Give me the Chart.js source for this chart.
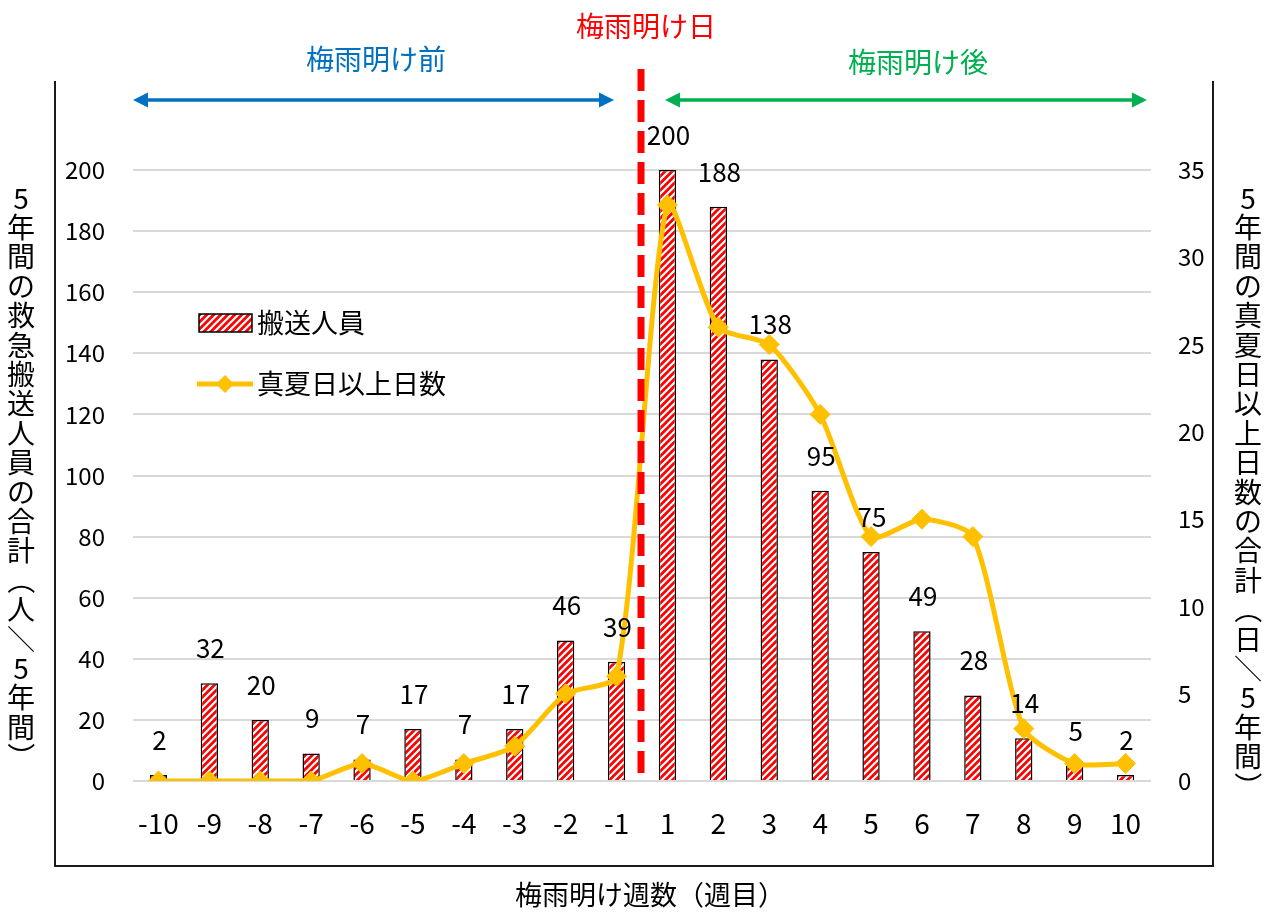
<!DOCTYPE html>
<html>
<head>
<meta charset="utf-8">
<script src="https://cdn.jsdelivr.net/npm/chart.js@4.4.1/dist/chart.umd.min.js"></script>
<style>
  html, body { margin: 0; padding: 0; background: #fff; }
  #wrap { width: 1272px; height: 914px; }
</style>
</head>
<body>
<div id="wrap"><canvas id="c" width="1272" height="914"></canvas></div>
<script>
// data
const weeks = ['-10','-9','-8','-7','-6','-5','-4','-3','-2','-1','1','2','3','4','5','6','7','8','9','10'];
const transported = [2, 32, 20, 9, 7, 17, 7, 17, 46, 39, 200, 188, 138, 95, 75, 49, 28, 14, 5, 2];
const hotDays = [0, 0, 0, 0, 1, 0, 1, 2, 5, 6, 33, 26, 25, 21, 14, 15, 14, 3, 1, 1];
const leftTicks = [0, 20, 40, 60, 80, 100, 120, 140, 160, 180, 200];
const rightTicks = [0, 5, 10, 15, 20, 25, 30, 35];

const FONT = "'Noto Sans CJK JP', 'Noto Sans', sans-serif";
Chart.defaults.font.family = FONT;
Chart.defaults.color = '#000';

function makeHatch() {
  const s = 7;
  const p = document.createElement('canvas');
  p.width = s; p.height = s;
  const g = p.getContext('2d');
  g.fillStyle = '#ff0000';
  g.fillRect(0, 0, s, s);
  g.strokeStyle = '#ffffff';
  g.lineWidth = 2.2;
  g.beginPath();
  g.moveTo(-1, 1); g.lineTo(1, -1);
  g.moveTo(0, s); g.lineTo(s, 0);
  g.moveTo(s - 1, s + 1); g.lineTo(s + 1, s - 1);
  g.stroke();
  return document.getElementById('c').getContext('2d').createPattern(p, 'repeat');
}
const hatch = makeHatch();

function arrow(ctx, x1, x2, y, color) {
  const hl = 15, hw = 7.5;
  ctx.save();
  ctx.strokeStyle = color;
  ctx.fillStyle = color;
  ctx.lineWidth = 3.5;
  ctx.beginPath();
  ctx.moveTo(x1 + hl - 2, y); ctx.lineTo(x2 - hl + 2, y);
  ctx.stroke();
  ctx.beginPath();
  ctx.moveTo(x1, y); ctx.lineTo(x1 + hl, y - hw); ctx.lineTo(x1 + hl, y + hw); ctx.closePath();
  ctx.fill();
  ctx.beginPath();
  ctx.moveTo(x2, y); ctx.lineTo(x2 - hl, y - hw); ctx.lineTo(x2 - hl, y + hw); ctx.closePath();
  ctx.fill();
  ctx.restore();
}

// vertical (tategaki) title: characters upright, brackets and slash turned
function vText(ctx, text, cx, top, step) {
  ctx.save();
  ctx.font = '28px ' + FONT;
  ctx.fillStyle = '#000';
  ctx.textAlign = 'center';
  ctx.textBaseline = 'middle';
  const turn = '（）／';
  [...text].forEach((ch, i) => {
    const y = top + i * step;
    if (turn.includes(ch)) {
      ctx.save();
      ctx.translate(cx, y);
      ctx.rotate(Math.PI / 2);
      ctx.fillText(ch, 0, 0);
      ctx.restore();
    } else {
      ctx.fillText(ch, cx, y);
    }
  });
  ctx.restore();
}

const decor = {
  id: 'decor',
  beforeDraw(chart) {
    const ctx = chart.ctx;
    ctx.save();
    ctx.fillStyle = '#fff';
    ctx.fillRect(0, 0, chart.width, chart.height);
    ctx.restore();
  },
  afterDatasetsDraw(chart) {
    const ctx = chart.ctx;
    const x = chart.scales.x;
    const area = chart.chartArea;

    // frame (left, bottom, right)
    ctx.save();
    ctx.strokeStyle = '#1a1a1a';
    ctx.lineWidth = 2;
    ctx.beginPath();
    ctx.moveTo(55, 81); ctx.lineTo(55, 866); ctx.lineTo(1213, 866); ctx.lineTo(1213, 81);
    ctx.stroke();
    ctx.restore();

    // rainy season end marker
    const mx = (x.getPixelForValue(9) + x.getPixelForValue(10)) / 2 - 1;
    ctx.save();
    ctx.strokeStyle = '#ff0000';
    ctx.lineWidth = 7;
    ctx.setLineDash([22, 9]);
    ctx.beginPath();
    ctx.moveTo(mx, 69); ctx.lineTo(mx, area.bottom + 1);
    ctx.stroke();
    ctx.restore();

    arrow(ctx, 133, 614, 100, '#0070c0');
    arrow(ctx, 665, 1147, 100, '#00b050');

    ctx.save();
    ctx.textAlign = 'center';
    ctx.textBaseline = 'middle';
    ctx.font = '28px ' + FONT;
    ctx.fillStyle = '#ff0000';
    ctx.fillText('梅雨明け日', 646, 26);
    ctx.fillStyle = '#0070c0';
    ctx.fillText('梅雨明け前', 376, 59);
    ctx.fillStyle = '#00b050';
    ctx.fillText('梅雨明け後', 918, 62);
    ctx.fillStyle = '#000';
    ctx.font = '27px ' + FONT;
    ctx.fillText('梅雨明け週数（週目）', 650, 895);

    // value labels above bars
    ctx.font = '26px ' + FONT;
    const meta = chart.getDatasetMeta(0);
    meta.data.forEach((bar, i) => {
      ctx.fillText(String(transported[i]), bar.x + 1, bar.y - 35);
    });

    // legend
    ctx.fillStyle = hatch;
    ctx.fillRect(199, 314, 53, 18);
    ctx.strokeStyle = '#000';
    ctx.lineWidth = 1.5;
    ctx.strokeRect(199, 314, 53, 18);
    ctx.strokeStyle = '#ffc000';
    ctx.lineWidth = 5;
    ctx.beginPath();
    ctx.moveTo(197, 384); ctx.lineTo(253, 384);
    ctx.stroke();
    ctx.fillStyle = '#ffc000';
    ctx.beginPath();
    ctx.moveTo(225, 375); ctx.lineTo(234, 384); ctx.lineTo(225, 393); ctx.lineTo(216, 384); ctx.closePath();
    ctx.fill();
    ctx.fillStyle = '#000';
    ctx.textAlign = 'left';
    ctx.font = '27px ' + FONT;
    ctx.fillText('搬送人員', 257, 323);
    ctx.fillText('真夏日以上日数', 257, 384);
    ctx.restore();

    vText(ctx, '5年間の救急搬送人員の合計（人／5年間）', 21, 198, 29.4);
    vText(ctx, '5年間の真夏日以上日数の合計（日／5年間）', 1248, 198, 29.4);
  }
};

new Chart(document.getElementById('c'), {
  data: {
    labels: weeks,
    datasets: [
      {
        type: 'bar',
        label: '搬送人員',
        data: transported,
        yAxisID: 'y',
        backgroundColor: hatch,
        borderColor: '#000',
        borderWidth: 1.5,
        barPercentage: 0.34,
        categoryPercentage: 1,
        order: 2
      },
      {
        type: 'line',
        label: '真夏日以上日数',
        data: hotDays,
        yAxisID: 'y1',
        borderColor: '#ffc000',
        backgroundColor: '#ffc000',
        borderWidth: 5,
        pointStyle: 'rectRot',
        pointRadius: 10,
        pointBorderWidth: 1,
        pointBorderColor: '#ffc000',
        tension: 0.22,
        order: 1
      }
    ]
  },
  options: {
    responsive: false,
    animation: false,
    devicePixelRatio: 1,
    layout: { padding: { top: 170, left: 0, right: 0, bottom: 0 } },
    plugins: {
      legend: { display: false },
      tooltip: { enabled: false },
      title: { display: false }
    },
    scales: {
      x: {
        grid: { display: false, drawTicks: false },
        border: { display: false },
        ticks: { font: { size: 28 }, padding: 26, color: '#000' },
        afterFit: (s) => { s.height = 133; }
      },
      y: {
        position: 'left',
        min: 0,
        max: 200,
        grid: { color: '#d9d9d9', lineWidth: 2, drawTicks: false },
        border: { display: false },
        afterBuildTicks: (s) => { s.ticks = leftTicks.map(v => ({ value: v })); },
        ticks: { font: { size: 24 }, padding: 28, color: '#000' },
        afterFit: (s) => { s.width = 133; }
      },
      y1: {
        position: 'right',
        min: 0,
        max: 35,
        grid: { display: false, drawTicks: false },
        border: { display: false },
        afterBuildTicks: (s) => { s.ticks = rightTicks.map(v => ({ value: v })); },
        ticks: { font: { size: 24 }, padding: 27, color: '#000' },
        afterFit: (s) => { s.width = 121; }
      }
    }
  },
  plugins: [decor]
});
</script>
</body>
</html>
